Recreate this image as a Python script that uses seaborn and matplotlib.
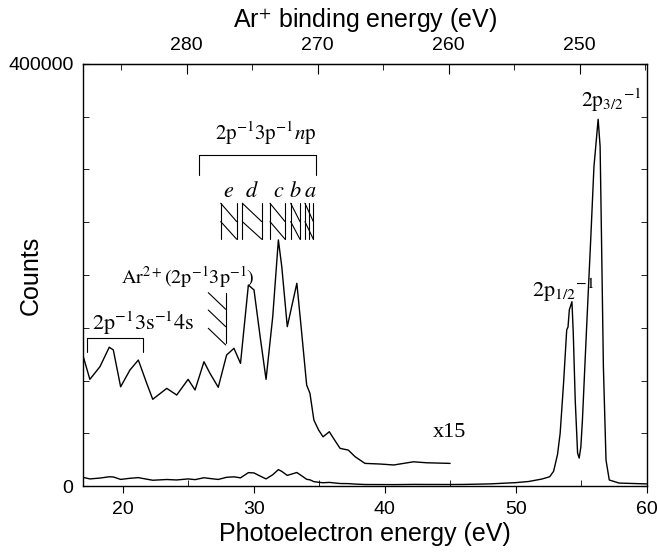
import numpy as np
import pandas as pd
import seaborn as sns
from matplotlib import pyplot as plt
from matplotlib.ticker import MultipleLocator, FixedLocator, FuncFormatter

sns.set_style("ticks")
plt.rcParams['font.family'] = ['Liberation Sans', 'DejaVu Sans']
plt.rcParams['mathtext.fontset'] = 'stix'
for k in ['text.color', 'axes.labelcolor', 'xtick.color', 'ytick.color', 'axes.edgecolor']:
    plt.rcParams[k] = 'k'

# photoelectron spectrum (raw counts)
energy = [17.0, 17.5, 18.27, 18.98, 19.29, 19.85, 20.56, 21.2, 21.84, 22.3, 23.37, 24.13,
          25.0, 25.53, 26.21, 26.67, 27.3, 27.94, 28.5, 29.0, 29.6, 30.03, 30.5, 30.95,
          31.46, 31.89, 32.15, 32.57, 33.3, 33.6, 34.05, 34.3, 34.6, 34.96, 35.3, 35.78,
          36.1, 36.6, 37.23, 37.75, 38.5, 39.65, 40.7, 42.2, 43.2, 45.0,
          46.0, 48.0, 50.0, 51.0, 52.0, 52.6, 52.9, 53.2, 53.4, 53.66, 53.9, 54.0, 54.1,
          54.3, 54.4, 54.55, 54.73, 54.85, 54.98, 55.1, 55.4, 55.73, 55.98, 56.3, 56.45,
          56.55, 56.7, 56.9, 57.15, 57.9, 60.0]
counts = [8170, 6740, 7540, 8770, 8600, 6270, 7330, 7960, 6490, 5480, 6170, 5750,
          6740, 6070, 7850, 7120, 6240, 8280, 8700, 7750, 12700, 12390, 9430, 6740,
          10700, 15550, 13860, 10070, 12810, 10280, 6380, 5860, 4170, 3540, 3110, 3430,
          3010, 2380, 2270, 1850, 1430, 1390, 1330, 1530, 1470, 1430,
          1500, 2000, 3200, 4300, 6600, 8800, 14000, 30000, 50000, 97600, 148000, 150700, 167000,
          174700, 145000, 81500, 31300, 26500, 37000, 62600, 145000, 233000, 302700, 347600, 321700,
          240000, 113000, 24600, 5700, 2800, 2000]
scale = 15
scale_end = 45.0
photon_energy = 304.9
be_ticks = [250, 260, 270, 280]

df = pd.DataFrame({'energy': energy, 'counts': counts})
low = df[df['energy'] <= scale_end].copy()
low['scaled'] = low['counts'] * scale

# annotation positions (eV, counts)
br_3s_x, br_3s_y = [17.26, 21.58], [127300, 140600]
br_np_x, br_np_y = [25.86, 34.76], [294800, 313800]
ar2_x, ar2_left, ar2_y = 27.87, 26.54, [183300, 166800, 149500]
ar2_drop, ar2_bottom = 15800, 135300
np_groups = [(27.49, 28.71), (29.14, 30.62), (31.25, 32.4), (32.83, 33.54), (33.92, 34.56)]
np_extra = [34.25]
np_top, np_mid, np_bot = 268000, 250600, 233900
letters = ['e', 'd', 'c', 'b', 'a']
letter_x = [28.12, 29.9, 31.94, 33.16, 34.3]

fig, ax = plt.subplots(figsize=(6.57, 5.54), dpi=100)
plt.subplots_adjust(left=0.1268, right=0.9842, bottom=0.1227, top=0.8845)

sns.lineplot(x='energy', y='counts', data=df, ax=ax, color='k', lw=1.0)
sns.lineplot(x='energy', y='scaled', data=low, ax=ax, color='k', lw=1.0)

ax.set_xlim(17, 60)
ax.set_ylim(0, 400000)
ax.xaxis.set_major_locator(MultipleLocator(10))
ax.xaxis.set_minor_locator(MultipleLocator(5))
ax.yaxis.set_major_locator(FixedLocator([0, 400000]))
ax.yaxis.set_major_formatter(FuncFormatter(lambda v, p: '%d' % v))
ax.yaxis.set_minor_locator(MultipleLocator(50000))
ax.tick_params(axis='x', which='major', direction='out', length=5, pad=6, labelsize=14, top=False)
ax.tick_params(axis='x', which='minor', direction='in', length=4, top=False)
ax.tick_params(axis='y', which='both', direction='in', length=4, pad=7, labelsize=14,
               left=True, right=True)
for s in ax.spines.values():
    s.set_linewidth(1.0)

ax.set_xlabel('Photoelectron energy (eV)', fontsize=18, labelpad=3)
ax.set_ylabel('Counts', fontsize=18)
ax.yaxis.set_label_coords(-0.072, 0.5)

f = lambda e: photon_energy - e
sec = ax.secondary_xaxis('top', functions=(f, f))
sec.xaxis.set_major_locator(FixedLocator(be_ticks))
sec.xaxis.set_minor_locator(FixedLocator([245, 255, 265, 275, 285]))
sec.tick_params(which='major', direction='in', length=7, pad=7, labelsize=14)
sec.tick_params(which='minor', direction='in', length=4)
sec.set_xlabel('Ar$^{+}$ binding energy (eV)', fontsize=18, labelpad=7)

# brackets
lk = dict(color='k', lw=0.8)
for bx, by in [(br_3s_x, br_3s_y), (br_np_x, br_np_y)]:
    ax.plot([bx[0], bx[0], bx[1], bx[1]], [by[0], by[1], by[1], by[0]], **lk)

# Ar2+ threshold hatch
ax.plot([ar2_x, ar2_x], [ar2_bottom, ar2_y[0]], **lk)
for c0 in ar2_y:
    ax.plot([ar2_left, ar2_x], [c0, c0 - ar2_drop], **lk)

# np series hatches
for xl, xr in np_groups:
    ax.plot([xl, xl], [np_bot, np_top], **lk)
    ax.plot([xr, xr], [np_bot, np_top], **lk)
    ax.plot([xl, xr], [np_top, np_mid], **lk)
    ax.plot([xl, xr], [np_mid, np_bot], **lk)
for xe in np_extra:
    ax.plot([xe, xe], [np_bot, np_top], **lk)

tk = dict(color='k', va='baseline')
ax.text(21.6, 148000, r'$\mathrm{2p^{-1}3s^{-1}4s}$', ha='center', fontsize=16, **tk)
ax.text(25.0, 192000, r'$\mathrm{Ar^{2+}(2p^{-1}3p^{-1})}$', ha='center', fontsize=14.5, **tk)
ax.text(30.9, 328000, r'$\mathrm{2p^{-1}3p^{-1}}n\mathrm{p}$', ha='center', fontsize=15, **tk)
for lab, lx in zip(letters, letter_x):
    ax.text(lx, 273700, '$%s$' % lab, ha='center', fontsize=16, **tk)
ax.text(51.23, 179500, r'$\mathrm{2p}_{1/2}{}^{-1}$', ha='left', fontsize=16, **tk)
ax.text(55.0, 359600, r'$\mathrm{2p}_{3/2}{}^{-1}$', ha='left', fontsize=15.5, **tk)
ax.text(43.7, 46700, 'x15', ha='left', family='Liberation Serif', fontsize=16, **tk)

plt.savefig('out.png', dpi=100)
